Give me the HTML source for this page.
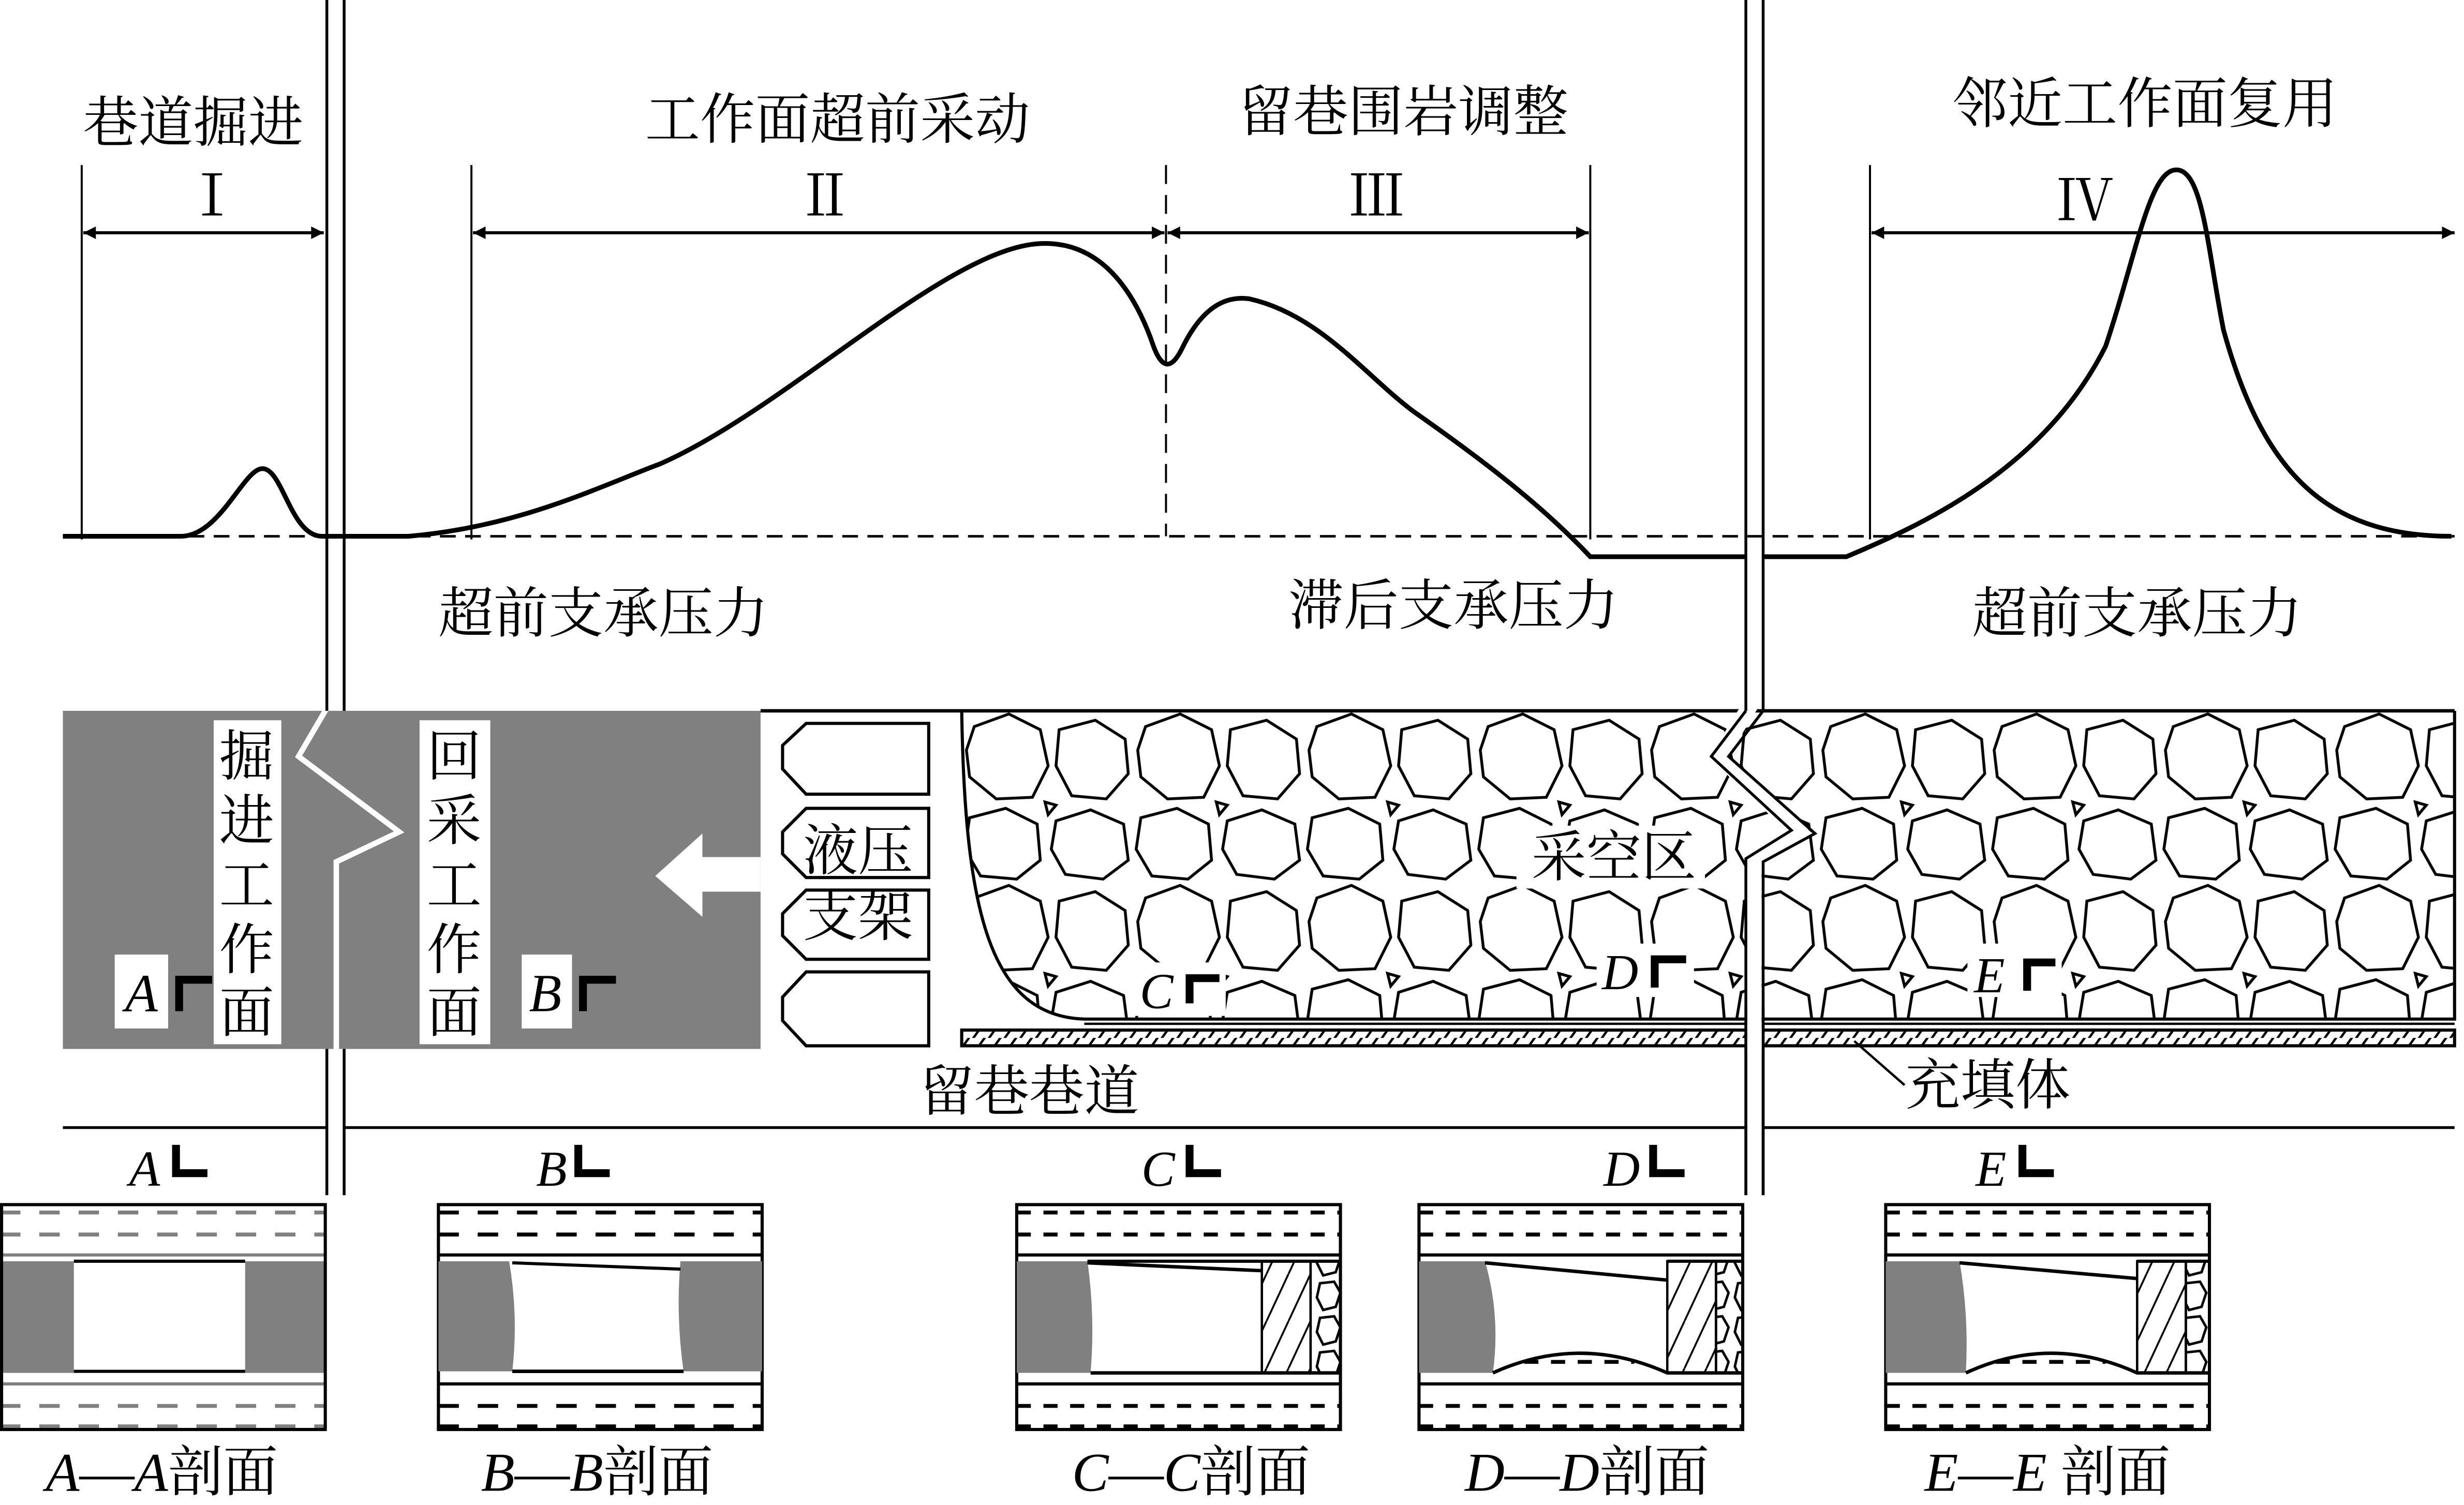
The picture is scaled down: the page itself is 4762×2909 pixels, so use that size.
<!DOCTYPE html>
<html><head><meta charset="utf-8">
<style>
html,body{margin:0;padding:0;background:#fff;}
svg{display:block;}
text{font-family:"Liberation Serif","Noto Serif CJK SC",serif;fill:#000;}
.cn{font-size:35px;}
.it{font-style:italic;}
</style></head>
<body>
<svg width="4762" height="2909" viewBox="0 0 1568 957" preserveAspectRatio="none" xmlns="http://www.w3.org/2000/svg">
<defs>
<marker id="ar" viewBox="0 0 10 10" refX="10" refY="5" markerWidth="10" markerHeight="8" markerUnits="userSpaceOnUse" orient="auto-start-reverse"><path d="M0,0 L10,5 L0,10 z" fill="#000"/></marker>
<pattern id="rocks" patternUnits="userSpaceOnUse" width="109" height="109" x="612" y="452">
<g fill="none" stroke="#000" stroke-width="1.8">
<polygon points="8,10 30,2 50,12 55,35 45,55 22,56 5,42 3,25"/>
<polygon points="62,12 85,6 104,18 106,40 92,56 70,54 60,35"/>
<polygon points="5,68 28,62 48,72 50,95 35,107 12,105 2,88"/>
<polygon points="60,70 82,63 103,72 106,95 90,107 66,104 57,88"/>
<polygon points="53,58 60,60 55,66"/>
</g>
</pattern>
<pattern id="hat" patternUnits="userSpaceOnUse" width="10" height="10">
<path d="M-2,12 L8,-2 M8,12 L18,-2" stroke="#000" stroke-width="1.5"/>
</pattern>
<pattern id="hat2" patternUnits="userSpaceOnUse" width="14" height="30">
<path d="M-6,30 L8,0 M8,30 L22,0" stroke="#000" stroke-width="1.2"/>
</pattern>
<pattern id="pebble" patternUnits="userSpaceOnUse" width="19" height="22">
<g fill="none" stroke="#000" stroke-width="1.6"><polygon points="4,2 13,1 17,8 14,17 6,19 2,11"/></g>
</pattern>
</defs>

<text class="cn" x="123" y="90" text-anchor="middle">巷道掘进</text>
<text class="cn" x="533" y="88" text-anchor="middle">工作面超前采动</text>
<text class="cn" x="893" y="83" text-anchor="middle">留巷围岩调整</text>
<text class="cn" x="1365" y="78" text-anchor="middle">邻近工作面复用</text>
<text x="135" y="137" font-size="36" text-anchor="middle">Ⅰ</text>
<text x="525" y="137" font-size="36" text-anchor="middle">Ⅱ</text>
<text x="876" y="137" font-size="36" text-anchor="middle">Ⅲ</text>
<text x="1327" y="140" font-size="36" text-anchor="middle">Ⅳ</text>

<g stroke="#000" stroke-width="1.3" fill="none">
<line x1="52" y1="105" x2="52" y2="343"/>
<line x1="300" y1="105" x2="300" y2="343"/>
<line x1="1012" y1="105" x2="1012" y2="343"/>
<line x1="1190" y1="105" x2="1190" y2="343"/>
<line x1="742" y1="105" x2="742" y2="341" stroke-dasharray="12,7"/>
<line x1="53" y1="148" x2="206" y2="148" marker-start="url(#ar)" marker-end="url(#ar)" stroke-width="2"/>
<line x1="301" y1="148" x2="741" y2="148" marker-start="url(#ar)" marker-end="url(#ar)" stroke-width="2"/>
<line x1="743" y1="148" x2="1011" y2="148" marker-start="url(#ar)" marker-end="url(#ar)" stroke-width="2"/>
<line x1="1191" y1="148" x2="1562" y2="148" marker-start="url(#ar)" marker-end="url(#ar)" stroke-width="2"/>
<line x1="40" y1="341" x2="1562" y2="341" stroke-dasharray="10,6" stroke-width="1.6"/>
</g>
<path d="M40 341 L115 341 C140 341,155 298,167 298 C180 298,185 341,205 341 L260 341 C330 335,380 310,420 295 C500 260,600 160,660 155 C700 152,722 185,734 220 Q742 242,752 222 C765 195,780 188,795 190 C840 200,870 240,900 262 C940 290,980 320,1012 354 L1111 354 M1122 354 L1175 354 C1220 335,1300 300,1340 220 C1360 160,1368 108,1385 108 C1402 108,1405 160,1415 210 C1440 300,1480 341,1560 341" fill="none" stroke="#000" stroke-width="3"/>

<text class="cn" x="384" y="402" text-anchor="middle">超前支承压力</text>
<text class="cn" x="925" y="397" text-anchor="middle">滞后支承压力</text>
<text class="cn" x="1360" y="402" text-anchor="middle">超前支承压力</text>

<rect x="40" y="452" width="444" height="215" fill="#808080"/>
<path d="M214 440 L190 481 L254 529 L214 548 L214 667" fill="none" stroke="#fff" stroke-width="3.5"/>
<rect x="136" y="458" width="43" height="206" fill="#fff"/>
<rect x="267" y="458" width="45" height="206" fill="#fff"/>
<g class="cn" text-anchor="middle" font-size="36">
<text x="157" y="493">掘</text><text x="157" y="534">进</text><text x="157" y="575">工</text><text x="157" y="616">作</text><text x="157" y="656">面</text>
<text x="289" y="493">回</text><text x="289" y="534">采</text><text x="289" y="575">工</text><text x="289" y="616">作</text><text x="289" y="656">面</text>
</g>
<rect x="73" y="607" width="34" height="47" fill="#fff"/>
<text x="90" y="643" font-size="34" class="it" text-anchor="middle">A</text>
<path d="M114 643 L114 623 L135 623" fill="none" stroke="#000" stroke-width="5"/>
<rect x="332" y="607" width="32" height="47" fill="#fff"/>
<text x="347" y="643" font-size="34" class="it" text-anchor="middle">B</text>
<path d="M371 643 L371 623 L392 623" fill="none" stroke="#000" stroke-width="5"/>
<polygon points="417,557 447,530 447,545 484,545 484,567 447,567 447,583" fill="#fff"/>

<g fill="#fff" stroke="#000" stroke-width="2">
<path d="M513 460 L591 460 L591 505 L513 505 L498 489 L498 474 Z"/>
<path d="M513 514 L591 514 L591 558 L513 558 L498 543 L498 529 Z"/>
<path d="M513 566 L591 566 L591 610 L513 610 L498 595 L498 581 Z"/>
<path d="M513 618 L591 618 L591 665 L513 665 L498 649 L498 634 Z"/>
</g>
<text class="cn" x="546" y="553" text-anchor="middle">液压</text>
<text class="cn" x="546" y="595" text-anchor="middle">支架</text>

<path d="M612 452 C614 580,630 646,690 648 L1562 648 L1562 452 Z" fill="url(#rocks)" stroke="none"/>
<path d="M612 452 C614 580,630 646,690 648 L1562 648 L1562 452" fill="none" stroke="#000" stroke-width="2"/>
<line x1="484" y1="452" x2="1562" y2="452" stroke="#000" stroke-width="2.2"/>
<rect x="965" y="525" width="120" height="40" fill="#fff"/>
<text class="cn" x="1027" y="557" text-anchor="middle">采空区</text>
<rect x="720" y="612" width="60" height="34" fill="#fff"/>
<text x="736" y="641" font-size="32" class="it" text-anchor="middle">C</text>
<path d="M757 638 L757 622 L776 622" fill="none" stroke="#000" stroke-width="5"/>
<rect x="1016" y="600" width="62" height="34" fill="#fff"/>
<text x="1031" y="629" font-size="32" class="it" text-anchor="middle">D</text>
<path d="M1053 628 L1053 610 L1073 610" fill="none" stroke="#000" stroke-width="5"/>
<rect x="1252" y="600" width="60" height="34" fill="#fff"/>
<text x="1266" y="631" font-size="32" class="it" text-anchor="middle">E</text>
<path d="M1290 630 L1290 612 L1308 612" fill="none" stroke="#000" stroke-width="5"/>

<path d="M1116 445 L1094 481 L1146 530 L1116 549 L1116 760" fill="none" stroke="#fff" stroke-width="10"/>
<path d="M1111 452 L1089 481 L1140 528 L1111 546 L1111 760 M1122 452 L1100 481 L1155 530 L1122 548 L1122 760" fill="none" stroke="#000" stroke-width="1.8"/>

<rect x="612" y="655" width="950" height="10" fill="url(#hat)" stroke="#000" stroke-width="2"/>
<line x1="690" y1="651" x2="1562" y2="651" stroke="#000" stroke-width="1.5"/>
<rect x="1111" y="650" width="11" height="20" fill="#fff"/>
<line x1="1111" y1="640" x2="1111" y2="760" stroke="#000" stroke-width="1.8"/>
<line x1="1122" y1="640" x2="1122" y2="760" stroke="#000" stroke-width="1.8"/>

<text class="cn" x="655" y="706" text-anchor="middle">留巷巷道</text>
<text class="cn" x="1265" y="702" text-anchor="middle">充填体</text>
<line x1="1180" y1="662" x2="1212" y2="690" stroke="#000" stroke-width="1.5"/>

<g stroke="#000" stroke-width="1.8">
<line x1="208" y1="0" x2="208" y2="452"/><line x1="219" y1="0" x2="219" y2="452"/>
<line x1="208" y1="667" x2="208" y2="760"/><line x1="219" y1="667" x2="219" y2="760"/>
<line x1="1111" y1="0" x2="1111" y2="452"/><line x1="1122" y1="0" x2="1122" y2="452"/>
<line x1="40" y1="717" x2="208" y2="717"/><line x1="219" y1="717" x2="1111" y2="717"/><line x1="1122" y1="717" x2="1562" y2="717"/>
</g>

<g font-size="32" class="it" text-anchor="middle">
<text x="92" y="754">A</text><text x="351" y="754">B</text><text x="737" y="754">C</text><text x="1032" y="754">D</text><text x="1267" y="754">E</text>
</g>
<g fill="none" stroke="#000" stroke-width="5">
<path d="M112 728 L112 746 L132 746"/><path d="M368 728 L368 746 L388 746"/>
<path d="M757 728 L757 746 L777 746"/><path d="M1052 728 L1052 746 L1072 746"/><path d="M1287 728 L1287 746 L1307 746"/>
</g>

<g>
<rect x="0" y="802" width="207" height="71" fill="#808080"/>
<rect x="47" y="802" width="109" height="71" fill="#fff"/>
<line x1="47" y1="802" x2="156" y2="802" stroke="#000" stroke-width="2"/>
<line x1="47" y1="872" x2="156" y2="872" stroke="#000" stroke-width="2"/>
<g stroke="#808080" stroke-width="2.5" stroke-dasharray="13,12">
<line x1="0" y1="771" x2="207" y2="771"/><line x1="0" y1="785" x2="207" y2="785"/>
<line x1="0" y1="894" x2="207" y2="894"/><line x1="0" y1="907" x2="207" y2="907"/>
</g>
<line x1="0" y1="798" x2="207" y2="798" stroke="#808080" stroke-width="2"/>
<line x1="0" y1="880" x2="207" y2="880" stroke="#808080" stroke-width="2"/>
<path d="M1 909 L1 766 L207 766 L207 909 L0 909" fill="none" stroke="#000" stroke-width="2"/>
</g>
<text x="103" y="948" font-size="35" text-anchor="middle"><tspan class="it">A</tspan>—<tspan class="it">A</tspan>剖面</text>

<g fill="none" stroke="#000">
<g stroke-width="2">
<rect x="279" y="766" width="206" height="143"/>
<line x1="279" y1="798" x2="485" y2="798"/><line x1="279" y1="880" x2="485" y2="880"/>
</g>
<g stroke-width="2.5" stroke-dasharray="13,12">
<line x1="279" y1="771" x2="485" y2="771"/><line x1="279" y1="785" x2="485" y2="785"/>
<line x1="279" y1="894" x2="485" y2="894"/><line x1="279" y1="907" x2="485" y2="907"/>
</g>
</g>
<path d="M279 802 L324 802 Q330 837 326 872 L279 872 Z" fill="#808080"/>
<path d="M485 802 L433 802 Q430 837 435 872 L485 872 Z" fill="#808080"/>
<line x1="326" y1="803" x2="433" y2="807" stroke="#000" stroke-width="2"/>
<line x1="326" y1="872" x2="435" y2="872" stroke="#000" stroke-width="2.2"/>
<text x="380" y="948" font-size="35" text-anchor="middle"><tspan class="it">B</tspan>—<tspan class="it">B</tspan>剖面</text>

<g fill="none" stroke="#000">
<g stroke-width="2">
<rect x="647" y="766" width="206" height="143"/><rect x="903" y="766" width="206" height="143"/><rect x="1200" y="766" width="206" height="143"/>
<line x1="647" y1="798" x2="853" y2="798"/><line x1="647" y1="880" x2="853" y2="880"/>
<line x1="903" y1="798" x2="1109" y2="798"/><line x1="903" y1="880" x2="1109" y2="880"/>
<line x1="1200" y1="798" x2="1406" y2="798"/><line x1="1200" y1="880" x2="1406" y2="880"/>
</g>
<g stroke-width="2.5" stroke-dasharray="9,8">
<line x1="647" y1="771" x2="853" y2="771"/><line x1="647" y1="785" x2="853" y2="785"/><line x1="647" y1="894" x2="853" y2="894"/><line x1="647" y1="907" x2="853" y2="907"/>
<line x1="903" y1="771" x2="1109" y2="771"/><line x1="903" y1="785" x2="1109" y2="785"/><line x1="903" y1="894" x2="1109" y2="894"/><line x1="903" y1="907" x2="1109" y2="907"/>
<line x1="1200" y1="771" x2="1406" y2="771"/><line x1="1200" y1="785" x2="1406" y2="785"/><line x1="1200" y1="894" x2="1406" y2="894"/><line x1="1200" y1="907" x2="1406" y2="907"/>
</g>
</g>
<path d="M647 802 L692 802 Q697 837 694 873 L647 873 Z" fill="#808080"/>
<rect x="803" y="802" width="31" height="71" fill="url(#hat2)" stroke="#000" stroke-width="1.5"/>
<rect x="834" y="802" width="19" height="71" fill="url(#pebble)" stroke="#000" stroke-width="1.5"/>
<line x1="692" y1="802" x2="853" y2="802" stroke="#000" stroke-width="2"/>
<line x1="692" y1="803" x2="803" y2="808" stroke="#000" stroke-width="2.2"/>
<line x1="694" y1="873" x2="853" y2="873" stroke="#000" stroke-width="2.2"/>
<text x="758" y="948" font-size="35" text-anchor="middle"><tspan class="it">C</tspan>—<tspan class="it">C</tspan>剖面</text>
<path d="M903 802 L945 802 Q955 837 950 873 L903 873 Z" fill="#808080"/>
<rect x="1061" y="802" width="31" height="71" fill="url(#hat2)" stroke="#000" stroke-width="1.5"/>
<rect x="1092" y="802" width="17" height="71" fill="url(#pebble)" stroke="#000" stroke-width="1.5"/>
<line x1="1061" y1="802" x2="1109" y2="802" stroke="#000" stroke-width="2"/>
<line x1="945" y1="803" x2="1061" y2="814" stroke="#000" stroke-width="2.2"/>
<path d="M950 873 Q1005 848 1061 873 L1109 873" fill="none" stroke="#000" stroke-width="2.2"/>
<line x1="970" y1="866" x2="1040" y2="866" stroke="#000" stroke-width="2.5" stroke-dasharray="9,8"/>
<text x="1010" y="948" font-size="35" text-anchor="middle"><tspan class="it">D</tspan>—<tspan class="it">D</tspan>剖面</text>
<path d="M1200 802 L1247 802 Q1253 837 1251 873 L1200 873 Z" fill="#808080"/>
<rect x="1360" y="802" width="31" height="71" fill="url(#hat2)" stroke="#000" stroke-width="1.5"/>
<rect x="1391" y="802" width="15" height="71" fill="url(#pebble)" stroke="#000" stroke-width="1.5"/>
<line x1="1360" y1="802" x2="1406" y2="802" stroke="#000" stroke-width="2"/>
<line x1="1247" y1="803" x2="1360" y2="813" stroke="#000" stroke-width="2.2"/>
<path d="M1251 873 Q1305 848 1360 873 L1406 873" fill="none" stroke="#000" stroke-width="2.2"/>
<line x1="1270" y1="866" x2="1340" y2="866" stroke="#000" stroke-width="2.5" stroke-dasharray="9,8"/>
<text x="1303" y="948" font-size="35" text-anchor="middle"><tspan class="it">E</tspan>—<tspan class="it">E</tspan> 剖面</text>
</svg>
</body></html>
